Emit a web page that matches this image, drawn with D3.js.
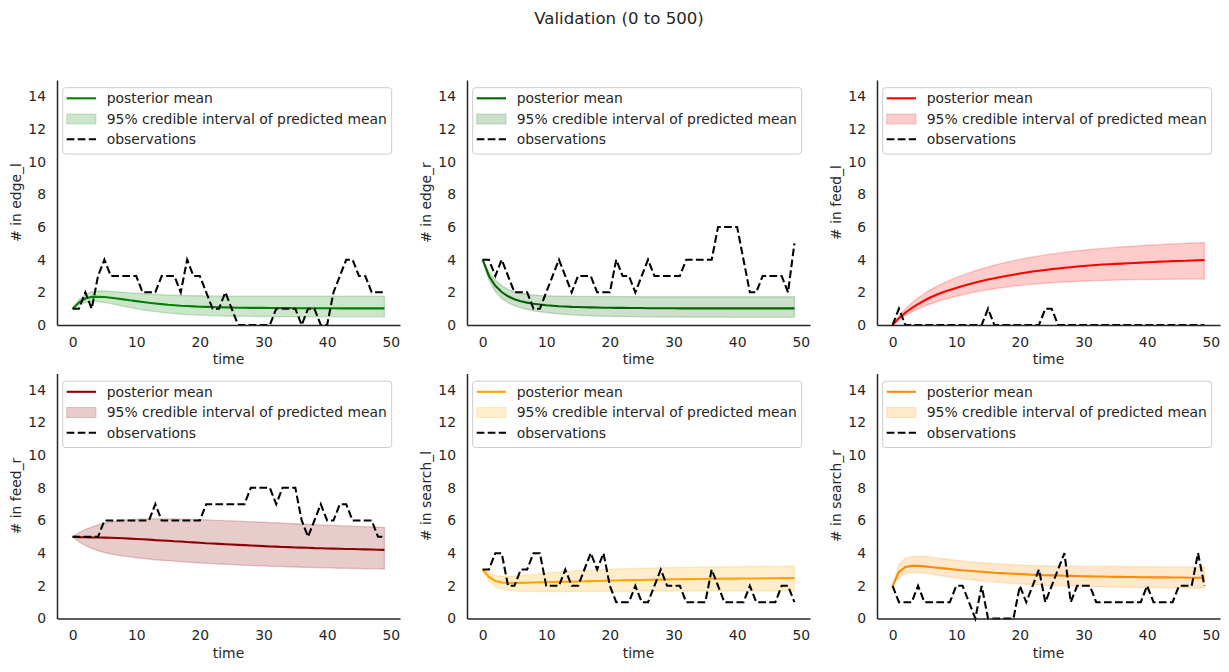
<!DOCTYPE html>
<html>
<head>
<meta charset="utf-8">
<script src="https://cdn.jsdelivr.net/npm/d3@7"></script>
<style>
  body { margin: 0; background: #fff; }
  svg { display: block; font-family: "DejaVu Sans", sans-serif; }
</style>
</head>
<body>
<svg id="chart" width="1229" height="672"></svg>
<script>
// ---------- data ----------
const title = "Validation (0 to 500)";
const xTicks = [0, 10, 20, 30, 40, 50];
const yTicks = [0, 2, 4, 6, 8, 10, 12, 14];
const legendLabels = ["posterior mean", "95% credible interval of predicted mean", "observations"];
const panelNames = ["edge_l", "edge_r", "feed_l", "feed_r", "search_l", "search_r"];
const panelColors = ["#008000", "#006400", "#ff0000", "#8b0000", "#ffa500", "#ff8c00"];
const time = d3.range(50);

// edge_l
const obs_edge_l = [1,1,2,1,3, 4,3,3,3,3, 3,2,2,2,3, 3,3,2,4,3, 3,2,1,1,2, 1,0,0,0,0, 0,0,1,1,1, 1,0,1,1,0, 0,2,3,4,4, 3,3,2,2,2];
const mean_edge_l = [1.00,1.38,1.62,1.72,1.73,1.71,1.67,1.62,1.57,1.51,1.46,1.41,1.36,1.32,1.28,1.24,1.21,1.18,1.16,1.14,1.12,1.11,1.10,1.09,1.08,1.07,1.06,1.06,1.05,1.05,1.05,1.04,1.04,1.04,1.04,1.03,1.03,1.03,1.03,1.03,1.03,1.03,1.02,1.02,1.02,1.02,1.02,1.02,1.02,1.02];
const lo_edge_l = [1.00,1.22,1.38,1.44,1.43,1.38,1.31,1.23,1.15,1.07,1.00,0.93,0.87,0.82,0.77,0.73,0.70,0.67,0.64,0.62,0.60,0.59,0.57,0.56,0.55,0.54,0.54,0.53,0.53,0.52,0.52,0.52,0.51,0.51,0.51,0.51,0.50,0.50,0.50,0.50,0.50,0.50,0.50,0.50,0.50,0.50,0.50,0.50,0.50,0.50];
const hi_edge_l = [1.00,1.55,1.88,2.03,2.08,2.08,2.06,2.03,2.00,1.97,1.94,1.91,1.89,1.87,1.85,1.83,1.82,1.81,1.80,1.79,1.79,1.78,1.78,1.78,1.77,1.77,1.77,1.77,1.77,1.77,1.76,1.76,1.76,1.76,1.76,1.76,1.76,1.76,1.76,1.76,1.76,1.76,1.76,1.76,1.76,1.76,1.76,1.76,1.76,1.76];

// edge_r
const obs_edge_r = [4,4,3,4,3, 2,2,2,1,1, 2,3,4,3,2, 3,3,3,2,2, 2,4,3,3,2, 3,4,3,3,3, 3,3,4,4,4, 4,4,6,6,6, 6,4,2,2,3, 3,3,3,2,5];
const mean_edge_r = [4.00,3.00,2.40,2.02,1.76,1.58,1.46,1.37,1.30,1.25,1.21,1.18,1.15,1.13,1.11,1.10,1.09,1.08,1.07,1.06,1.06,1.05,1.05,1.04,1.04,1.04,1.03,1.03,1.03,1.03,1.03,1.02,1.02,1.02,1.02,1.02,1.02,1.02,1.02,1.02,1.02,1.02,1.02,1.02,1.02,1.02,1.02,1.02,1.02,1.02];
const lo_edge_r = [4.00,2.75,2.05,1.62,1.36,1.18,1.05,0.95,0.87,0.81,0.76,0.72,0.68,0.65,0.62,0.60,0.58,0.57,0.55,0.54,0.53,0.52,0.52,0.51,0.51,0.50,0.50,0.50,0.49,0.49,0.49,0.49,0.48,0.48,0.48,0.48,0.48,0.48,0.48,0.47,0.47,0.47,0.47,0.47,0.47,0.47,0.47,0.47,0.47,0.47];
const hi_edge_r = [4.00,3.25,2.75,2.42,2.18,2.03,1.94,1.88,1.84,1.81,1.79,1.78,1.77,1.76,1.76,1.75,1.75,1.75,1.74,1.74,1.74,1.74,1.74,1.74,1.73,1.73,1.73,1.73,1.73,1.73,1.73,1.73,1.73,1.73,1.73,1.73,1.73,1.73,1.73,1.73,1.73,1.73,1.73,1.73,1.73,1.73,1.73,1.73,1.73,1.73];

// feed_l
const obs_feed_l = [0,1,0,0,0, 0,0,0,0,0, 0,0,0,0,0, 1,0,0,0,0, 0,0,0,0,1, 1,0,0,0,0, 0,0,0,0,0, 0,0,0,0,0, 0,0,0,0,0, 0,0,0,0,0];
const mean_feed_l = [0.00,0.42,0.75,1.03,1.28,1.50,1.70,1.87,2.02,2.15,2.27,2.39,2.50,2.60,2.69,2.78,2.86,2.94,3.01,3.08,3.15,3.21,3.27,3.32,3.37,3.42,3.46,3.50,3.54,3.58,3.61,3.64,3.67,3.70,3.72,3.74,3.76,3.78,3.80,3.82,3.84,3.86,3.88,3.89,3.91,3.92,3.93,3.95,3.96,3.97];
const lo_feed_l = [0.00,0.32,0.58,0.80,0.99,1.15,1.30,1.43,1.55,1.66,1.76,1.85,1.94,2.02,2.09,2.16,2.22,2.28,2.33,2.38,2.42,2.46,2.50,2.53,2.56,2.59,2.61,2.63,2.65,2.67,2.69,2.70,2.72,2.73,2.74,2.75,2.76,2.77,2.78,2.78,2.79,2.79,2.80,2.80,2.80,2.81,2.81,2.81,2.81,2.81];
const hi_feed_l = [0.00,0.55,0.98,1.35,1.66,1.93,2.17,2.38,2.57,2.74,2.90,3.05,3.19,3.32,3.44,3.55,3.66,3.76,3.85,3.94,4.02,4.09,4.16,4.23,4.29,4.35,4.40,4.45,4.50,4.54,4.58,4.62,4.66,4.69,4.72,4.75,4.78,4.81,4.83,4.86,4.88,4.90,4.92,4.94,4.96,4.98,5.00,5.02,5.03,5.05];

// feed_r
const obs_feed_r = [5,5,5,5,5, 6,6,6,6,6, 6,6,6,7,6, 6,6,6,6,6, 6,7,7,7,7, 7,7,7,8,8, 8,8,7,8,8, 8,6,5,6,7, 6,6,7,7,6, 6,6,6,5,5];
const mean_feed_r = [5.00,4.98,4.97,4.96,4.96,4.95,4.94,4.93,4.91,4.89,4.87,4.85,4.83,4.80,4.78,4.76,4.73,4.71,4.68,4.66,4.64,4.61,4.59,4.57,4.55,4.53,4.51,4.49,4.47,4.45,4.43,4.41,4.40,4.38,4.37,4.35,4.34,4.33,4.31,4.30,4.29,4.28,4.27,4.26,4.25,4.24,4.23,4.22,4.21,4.20];
const lo_feed_r = [5.00,4.70,4.47,4.29,4.15,4.04,3.95,3.88,3.82,3.77,3.72,3.68,3.64,3.60,3.57,3.54,3.51,3.48,3.45,3.43,3.40,3.38,3.36,3.34,3.32,3.30,3.28,3.26,3.25,3.23,3.22,3.20,3.19,3.18,3.16,3.15,3.14,3.13,3.12,3.11,3.10,3.09,3.08,3.07,3.06,3.06,3.05,3.04,3.04,3.03];
const hi_feed_r = [5.00,5.25,5.45,5.60,5.73,5.83,5.91,5.97,6.02,6.05,6.07,6.09,6.10,6.10,6.10,6.10,6.09,6.08,6.07,6.06,6.05,6.04,6.02,6.01,5.99,5.98,5.96,5.94,5.93,5.91,5.89,5.87,5.86,5.84,5.82,5.80,5.78,5.77,5.75,5.73,5.72,5.70,5.68,5.67,5.65,5.64,5.62,5.61,5.59,5.58];

// search_l
const obs_search_l = [3,3,4,4,2, 2,3,3,4,4, 2,2,2,3,2, 2,3,4,3,4, 2,1,1,1,2, 1,1,2,3,2, 2,2,1,1,1, 1,3,2,1,1, 1,1,2,1,1, 1,1,2,2,1];
const mean_search_l = [3.00,2.55,2.30,2.20,2.17,2.17,2.18,2.19,2.20,2.21,2.22,2.23,2.24,2.25,2.26,2.27,2.28,2.29,2.30,2.31,2.32,2.33,2.34,2.35,2.35,2.36,2.37,2.38,2.38,2.39,2.40,2.40,2.41,2.41,2.42,2.42,2.43,2.43,2.44,2.44,2.44,2.45,2.45,2.45,2.46,2.46,2.46,2.47,2.47,2.47];
const lo_search_l = [3.00,2.30,1.95,1.80,1.73,1.69,1.67,1.66,1.65,1.65,1.65,1.65,1.65,1.65,1.66,1.66,1.66,1.66,1.66,1.67,1.67,1.67,1.67,1.67,1.68,1.68,1.68,1.68,1.68,1.68,1.69,1.69,1.69,1.69,1.69,1.69,1.69,1.69,1.70,1.70,1.70,1.70,1.70,1.70,1.70,1.70,1.70,1.70,1.70,1.70];
const hi_search_l = [3.00,2.80,2.64,2.58,2.57,2.58,2.62,2.66,2.70,2.74,2.78,2.82,2.85,2.88,2.90,2.92,2.94,2.96,2.98,3.00,3.01,3.03,3.04,3.05,3.06,3.07,3.08,3.09,3.10,3.11,3.12,3.12,3.13,3.14,3.14,3.15,3.15,3.16,3.16,3.17,3.17,3.17,3.18,3.18,3.18,3.19,3.19,3.19,3.20,3.20];

// search_r
const obs_search_r = [2,1,1,1,2, 1,1,1,1,1, 2,2,1,0,2, 0,0,0,0,0, 2,1,2,3,1, 2,3,4,1,2, 2,2,1,1,1, 1,1,1,1,1, 2,1,1,1,1, 2,2,2,4,2];
const mean_search_r = [2.00,2.85,3.15,3.22,3.22,3.19,3.15,3.11,3.07,3.03,2.99,2.95,2.92,2.89,2.86,2.83,2.80,2.78,2.76,2.74,2.72,2.70,2.68,2.67,2.65,2.64,2.63,2.62,2.61,2.60,2.59,2.58,2.57,2.57,2.56,2.55,2.55,2.54,2.54,2.53,2.53,2.52,2.52,2.52,2.51,2.51,2.51,2.50,2.50,2.50];
const lo_search_r = [2.00,2.50,2.75,2.82,2.82,2.78,2.72,2.66,2.60,2.54,2.48,2.43,2.38,2.34,2.30,2.26,2.23,2.20,2.17,2.14,2.12,2.10,2.08,2.06,2.04,2.03,2.01,2.00,1.99,1.98,1.97,1.96,1.95,1.94,1.93,1.93,1.92,1.91,1.91,1.90,1.90,1.89,1.89,1.88,1.88,1.88,1.87,1.87,1.87,1.87];
const hi_search_r = [2.00,3.30,3.68,3.80,3.82,3.80,3.76,3.71,3.66,3.61,3.56,3.52,3.48,3.44,3.41,3.38,3.35,3.33,3.31,3.29,3.28,3.26,3.25,3.24,3.23,3.22,3.21,3.21,3.20,3.20,3.19,3.19,3.19,3.18,3.18,3.18,3.18,3.17,3.17,3.17,3.17,3.17,3.16,3.16,3.16,3.16,3.16,3.16,3.16,3.16];

const panelObs = [obs_edge_l, obs_edge_r, obs_feed_l, obs_feed_r, obs_search_l, obs_search_r];
const panelMean = [mean_edge_l, mean_edge_r, mean_feed_l, mean_feed_r, mean_search_l, mean_search_r];
const panelLo = [lo_edge_l, lo_edge_r, lo_feed_l, lo_feed_r, lo_search_l, lo_search_r];
const panelHi = [hi_edge_l, hi_edge_r, hi_feed_l, hi_feed_r, hi_search_l, hi_search_r];

// ---------- layout ----------
const svg = d3.select("#chart");
const textColor = "#262626";
const fs = 13.9;
const lw = 2.08;
const dash = "7.7,3.33";
const colLeft = [57, 467, 877];
const rowTop = [80, 373.5];
const pw = 343, ph = 245;

svg.append("text")
  .attr("x", 619).attr("y", 23.5)
  .attr("text-anchor", "middle")
  .attr("font-size", 16.6)
  .attr("fill", textColor)
  .text(title);

panelNames.forEach((name, i) => {
  const left = colLeft[i % 3], top = rowTop[Math.floor(i / 3)];
  const color = panelColors[i];
  const g = svg.append("g").attr("transform", `translate(${left},${top})`);

  const x = d3.scaleLinear().domain([-2.45, 51.45]).range([0, pw]);
  const y = d3.scaleLinear().domain([0, 15]).range([ph, 0]);

  const rows = time.map((t, k) => ({ t, m: panelMean[i][k], lo: panelLo[i][k], hi: panelHi[i][k], o: panelObs[i][k] }));

  // band
  g.append("path")
    .datum(rows)
    .attr("d", d3.area().x(d => x(d.t)).y0(d => y(d.lo)).y1(d => y(d.hi)))
    .attr("fill", color).attr("fill-opacity", 0.2)
    .attr("stroke", color).attr("stroke-opacity", 0.2).attr("stroke-width", 1.39);

  // mean
  g.append("path")
    .datum(rows)
    .attr("d", d3.line().x(d => x(d.t)).y(d => y(d.m)))
    .attr("fill", "none").attr("stroke", color).attr("stroke-width", lw);

  // observations
  g.append("path")
    .datum(rows)
    .attr("d", d3.line().x(d => x(d.t)).y(d => y(d.o)))
    .attr("fill", "none").attr("stroke", "#000").attr("stroke-width", lw)
    .attr("stroke-dasharray", dash);

  // axes (spines only, no tick marks)
  const xAxis = d3.axisBottom(x).tickValues(xTicks).tickSize(0).tickPadding(12);
  const yAxis = d3.axisLeft(y).tickValues(yTicks).tickSize(0).tickPadding(11);
  const gx = g.append("g").attr("transform", `translate(0,${ph})`).call(xAxis);
  const gy = g.append("g").call(yAxis);
  [gx, gy].forEach(a => {
    a.select(".domain").attr("stroke", textColor).attr("stroke-width", 1.5);
    a.selectAll("text").attr("font-size", fs).attr("fill", textColor).attr("font-family", "DejaVu Sans");
  });

  // axis labels
  g.append("text")
    .attr("x", pw / 2).attr("y", ph + 39)
    .attr("text-anchor", "middle").attr("font-size", fs).attr("fill", textColor)
    .text("time");
  g.append("text")
    .attr("transform", `translate(-41,${ph / 2}) rotate(-90)`)
    .attr("text-anchor", "middle").attr("dominant-baseline", "central")
    .attr("font-size", fs).attr("fill", textColor)
    .text("# in " + name);

  // legend
  const lg = g.append("g").attr("transform", "translate(5.7,7.7)");
  lg.append("rect")
    .attr("width", 329).attr("height", 66.3).attr("rx", 3)
    .attr("fill", "#fff").attr("fill-opacity", 0.8)
    .attr("stroke", "#cccccc").attr("stroke-width", 1);
  const rowsY = [10.6, 31.3, 51.6];
  lg.append("line").attr("x1", 4).attr("x2", 33.3).attr("y1", rowsY[0]).attr("y2", rowsY[0])
    .attr("stroke", color).attr("stroke-width", lw);
  lg.append("rect").attr("x", 4).attr("y", rowsY[1] - 5).attr("width", 29.3).attr("height", 10)
    .attr("fill", color).attr("fill-opacity", 0.2)
    .attr("stroke", color).attr("stroke-opacity", 0.2);
  lg.append("line").attr("x1", 4).attr("x2", 33.3).attr("y1", rowsY[2]).attr("y2", rowsY[2])
    .attr("stroke", "#000").attr("stroke-width", lw).attr("stroke-dasharray", dash);
  legendLabels.forEach((lab, k) => {
    lg.append("text")
      .attr("x", 44).attr("y", rowsY[k])
      .attr("dominant-baseline", "central")
      .attr("font-size", fs).attr("fill", textColor)
      .text(lab);
  });
});
</script>
</body>
</html>
